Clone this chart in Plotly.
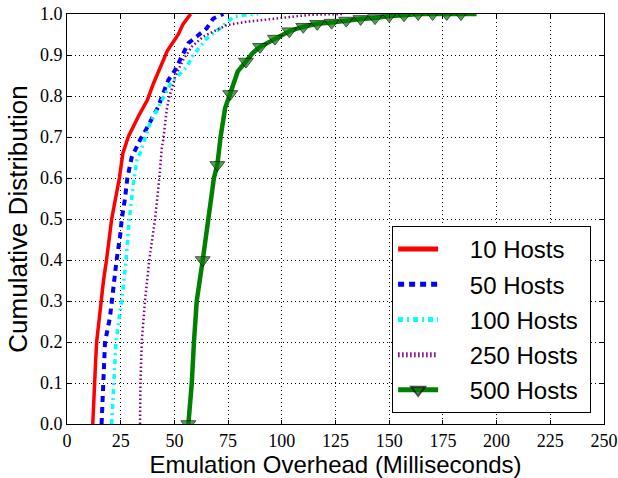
import plotly.graph_objects as go

# ---- data ----
h10_x = [12.0, 12.3, 12.8, 13.3, 13.8, 14.6, 15.7, 17.0, 18.4, 19.6, 20.8, 22.6, 24.4, 26.0,
         28.5, 33.2, 37.4, 40.2, 43.3, 46.7, 50.0, 51.8, 54.1, 57.6]
h10_p = [0.0, 0.05, 0.10, 0.15, 0.20, 0.24, 0.30, 0.35, 0.40, 0.45, 0.50, 0.55, 0.60, 0.66,
         0.70, 0.75, 0.79, 0.83, 0.87, 0.91, 0.936, 0.95, 0.976, 1.0]

h50_x = [16.1, 16.9, 17.7, 20.0, 20.8, 23.1, 24.7, 25.5, 27.0, 28.1, 30.1, 31.7, 34.0, 37.1,
         40.2, 42.5, 44.8, 47.2, 50.3, 56.5, 60.4, 65.0, 68.1, 72.8]
h50_p = [0.0, 0.10, 0.20, 0.26, 0.30, 0.40, 0.457, 0.50, 0.55, 0.60, 0.65, 0.67, 0.693, 0.721,
         0.75, 0.774, 0.807, 0.839, 0.863, 0.929, 0.945, 0.965, 0.989, 1.0]

h100_x = [20.8, 21.6, 22.8, 25.1, 25.5, 27.5, 29.0, 31.2, 32.8, 34.0, 36.3, 38.6, 41.8, 48.2,
          55.7, 58.8, 65.0, 71.2, 77.4, 83.6, 89.0]
h100_p = [0.0, 0.10, 0.20, 0.29, 0.30, 0.40, 0.50, 0.60, 0.65, 0.66, 0.70, 0.733, 0.766, 0.83,
          0.871, 0.90, 0.94, 0.965, 0.993, 0.998, 1.0]

h250_x = [34.0, 34.2, 34.8, 36.3, 38.3, 41.0, 43.0, 44.1, 44.8, 45.6, 46.4, 47.6, 49.2, 50.3,
          51.8, 54.1, 58.0, 63.5, 69.7, 74.3, 83.6, 97.6, 113.0, 128.5]
h250_p = [0.0, 0.10, 0.20, 0.30, 0.40, 0.50, 0.60, 0.672, 0.693, 0.733, 0.766, 0.798, 0.823,
          0.847, 0.863, 0.888, 0.92, 0.945, 0.961, 0.973, 0.981, 0.989, 0.998, 1.0]

h500_x = [56.5, 57.3, 58.1, 59.1, 60.4, 63.2, 65.8, 68.4, 70.0, 71.5, 73.6, 76.0, 79.5, 83.3,
          86.5, 89.9, 96.8, 103.5, 110.0, 116.5, 123.2, 130.0, 136.7, 143.4, 150.0, 156.9,
          163.5, 170.2, 176.8, 183.4, 190.7]
h500_p = [0.0, 0.05, 0.10, 0.20, 0.30, 0.40, 0.50, 0.60, 0.632, 0.70, 0.77, 0.805, 0.86, 0.884,
          0.905, 0.92, 0.94, 0.958, 0.969, 0.976, 0.979, 0.984, 0.988, 0.99, 0.995, 0.997,
          1.0, 1.0, 1.0, 1.0, 1.0]
h500_marked = [1, 0, 0, 0, 0, 1, 0, 0, 1, 0, 0, 1, 0, 1, 0, 1, 1, 1, 1, 1, 1, 1, 1, 1, 1, 1,
               1, 1, 1, 1, 0]

series_names = ["10 Hosts", "50 Hosts", "100 Hosts", "250 Hosts", "500 Hosts"]
x_ticks = [0, 25, 50, 75, 100, 125, 150, 175, 200, 225, 250]
y_ticks = [0.0, 0.1, 0.2, 0.3, 0.4, 0.5, 0.6, 0.7, 0.8, 0.9, 1.0]

NB = "\u00a0"


def label(name):
    # extra non-breaking spaces reproduce the wide gap between symbol and text
    return NB * 4 + name + NB


fig = go.Figure()
fig.add_trace(go.Scatter(x=h10_x, y=h10_p, mode="lines", name=label(series_names[0]),
                         legendgroup="a", line=dict(color="#ff0000", width=3.5)))
fig.add_trace(go.Scatter(x=h50_x, y=h50_p, mode="lines", name=label(series_names[1]),
                         legendgroup="b",
                         line=dict(color="#0000ff", width=4, dash="6px,5px")))
fig.add_trace(go.Scatter(x=h100_x, y=h100_p, mode="lines", name=label(series_names[2]),
                         legendgroup="c",
                         line=dict(color="#00ffff", width=3.5, dash="5px,4px,2px,4px")))
fig.add_trace(go.Scatter(x=h250_x, y=h250_p, mode="lines", name=label(series_names[3]),
                         legendgroup="d",
                         line=dict(color="#800080", width=2.5, dash="1.5px,2.5px")))
fig.add_trace(go.Scatter(x=h500_x, y=h500_p, mode="lines+markers", name=label(series_names[4]),
                         legendgroup="e",
                         line=dict(color="#008000", width=4.5),
                         marker=dict(symbol="triangle-down", color="#008000",
                                     size=[13 * m for m in h500_marked],
                                     line=dict(color="black", width=[1 * m for m in h500_marked]))))

axis_common = dict(
    showline=True, linecolor="black", linewidth=1, mirror="ticks",
    ticks="inside", ticklen=4, tickwidth=1, tickcolor="black",
    showgrid=True, gridcolor="black", gridwidth=1, griddash="1px,3px",
    zeroline=False,
    tickfont=dict(family="Liberation Serif", size=18, color="black"),
)

fig.update_xaxes(range=[0, 250], tickvals=x_ticks, ticktext=[str(v) for v in x_ticks],
                 title=dict(text="Emulation Overhead (Milliseconds)",
                            font=dict(family="Liberation Sans", size=24, color="black"),
                            standoff=0),
                 **axis_common)
fig.update_yaxes(range=[0, 1], tickvals=y_ticks, ticktext=[f"{v:.1f}" for v in y_ticks],
                 title=dict(text="Cumulative Distribution",
                            font=dict(family="Liberation Sans", size=26, color="black"),
                            standoff=4),
                 **axis_common)

fig.update_layout(
    width=618, height=478,
    margin=dict(l=67, r=14, t=14, b=54, autoexpand=False),
    plot_bgcolor="white", paper_bgcolor="white",
    legend=dict(x=0.976, y=0.027, xanchor="right", yanchor="bottom",
                bgcolor="white", bordercolor="black", borderwidth=1,
                font=dict(family="Liberation Sans", size=24, color="black"),
                itemsizing="constant", itemwidth=40, tracegroupgap=1),
)

fig.write_html("out.html")
